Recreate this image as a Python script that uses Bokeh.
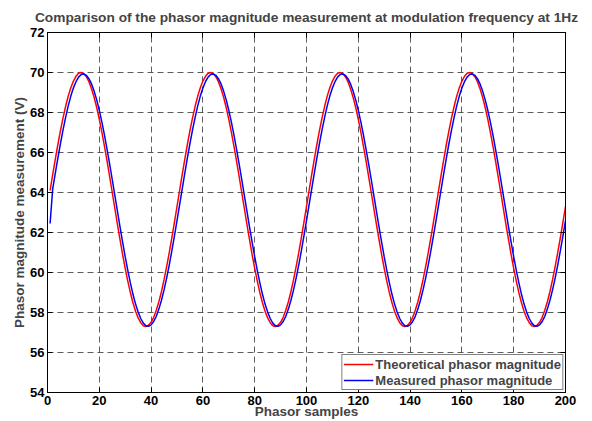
from bokeh.plotting import figure
from bokeh.models import LinearAxis, FixedTicker, CustomLabelingPolicy
from bokeh.embed import file_html
from bokeh.resources import INLINE

title_text = "Comparison of the phasor magnitude measurement at modulation frequency at 1Hz"
x_label = "Phasor samples"
y_label = "Phasor magnitude measurement (V)"
series_names = ["Theoretical phasor magnitude", "Measured phasor magnitude"]
x_ticks = [0, 20, 40, 60, 80, 100, 120, 140, 160, 180, 200]
y_ticks = [54, 56, 58, 60, 62, 64, 66, 68, 70, 72]

samples = list(range(1, 201))

theoretical = [
    64.10, 64.89, 65.66, 66.40, 67.09, 67.73, 68.31, 68.82, 69.24, 69.57,
    69.81, 69.96, 70.00, 69.94, 69.79, 69.54, 69.19, 68.76, 68.25, 67.66,
    67.01, 66.31, 65.57, 64.79, 64.00, 63.20, 62.41, 61.64, 60.90, 60.21,
    59.57, 58.99, 58.49, 58.06, 57.73, 57.49, 57.34, 57.30, 57.36, 57.51,
    57.76, 58.11, 58.54, 59.05, 59.64, 60.29, 60.99, 61.73, 62.51, 63.30,
    64.10, 64.89, 65.66, 66.40, 67.09, 67.73, 68.31, 68.82, 69.24, 69.57,
    69.81, 69.96, 70.00, 69.94, 69.79, 69.54, 69.19, 68.76, 68.25, 67.66,
    67.01, 66.31, 65.57, 64.79, 64.00, 63.20, 62.41, 61.64, 60.90, 60.21,
    59.57, 58.99, 58.49, 58.06, 57.73, 57.49, 57.34, 57.30, 57.36, 57.51,
    57.76, 58.11, 58.54, 59.05, 59.64, 60.29, 60.99, 61.73, 62.51, 63.30,
    64.10, 64.89, 65.66, 66.40, 67.09, 67.73, 68.31, 68.82, 69.24, 69.57,
    69.81, 69.96, 70.00, 69.94, 69.79, 69.54, 69.19, 68.76, 68.25, 67.66,
    67.01, 66.31, 65.57, 64.79, 64.00, 63.20, 62.41, 61.64, 60.90, 60.21,
    59.57, 58.99, 58.49, 58.06, 57.73, 57.49, 57.34, 57.30, 57.36, 57.51,
    57.76, 58.11, 58.54, 59.05, 59.64, 60.29, 60.99, 61.73, 62.51, 63.30,
    64.10, 64.89, 65.66, 66.40, 67.09, 67.73, 68.31, 68.82, 69.24, 69.57,
    69.81, 69.96, 70.00, 69.94, 69.79, 69.54, 69.19, 68.76, 68.25, 67.66,
    67.01, 66.31, 65.57, 64.79, 64.00, 63.20, 62.41, 61.64, 60.90, 60.21,
    59.57, 58.99, 58.49, 58.06, 57.73, 57.49, 57.34, 57.30, 57.36, 57.51,
    57.76, 58.11, 58.54, 59.05, 59.64, 60.29, 60.99, 61.73, 62.51, 63.30,
]

measured = [
    62.45, 64.17, 64.96, 65.72, 66.45, 67.13, 67.76, 68.33, 68.82, 69.23,
    69.54, 69.77, 69.90, 69.93, 69.86, 69.69, 69.43, 69.07, 68.63, 68.11,
    67.52, 66.87, 66.16, 65.42, 64.65, 63.86, 63.07, 62.28, 61.52, 60.79,
    60.11, 59.48, 58.91, 58.42, 58.02, 57.70, 57.47, 57.34, 57.31, 57.38,
    57.55, 57.81, 58.17, 58.61, 59.13, 59.72, 60.37, 61.08, 61.82, 62.59,
    63.38, 64.17, 64.96, 65.72, 66.45, 67.13, 67.76, 68.33, 68.82, 69.23,
    69.54, 69.77, 69.90, 69.93, 69.86, 69.69, 69.43, 69.07, 68.63, 68.11,
    67.52, 66.87, 66.16, 65.42, 64.65, 63.86, 63.07, 62.28, 61.52, 60.79,
    60.11, 59.48, 58.91, 58.42, 58.02, 57.70, 57.47, 57.34, 57.31, 57.38,
    57.55, 57.81, 58.17, 58.61, 59.13, 59.72, 60.37, 61.08, 61.82, 62.59,
    63.38, 64.17, 64.96, 65.72, 66.45, 67.13, 67.76, 68.33, 68.82, 69.23,
    69.54, 69.77, 69.90, 69.93, 69.86, 69.69, 69.43, 69.07, 68.63, 68.11,
    67.52, 66.87, 66.16, 65.42, 64.65, 63.86, 63.07, 62.28, 61.52, 60.79,
    60.11, 59.48, 58.91, 58.42, 58.02, 57.70, 57.47, 57.34, 57.31, 57.38,
    57.55, 57.81, 58.17, 58.61, 59.13, 59.72, 60.37, 61.08, 61.82, 62.59,
    63.38, 64.17, 64.96, 65.72, 66.45, 67.13, 67.76, 68.33, 68.82, 69.23,
    69.54, 69.77, 69.90, 69.93, 69.86, 69.69, 69.43, 69.07, 68.63, 68.11,
    67.52, 66.87, 66.16, 65.42, 64.65, 63.86, 63.07, 62.28, 61.52, 60.79,
    60.11, 59.48, 58.91, 58.42, 58.02, 57.70, 57.47, 57.34, 57.31, 57.38,
    57.55, 57.81, 58.17, 58.61, 59.13, 59.72, 60.37, 61.08, 61.82, 62.59,
]

FONT = "Liberation Sans"

p = figure(width=592, height=421, x_range=(0, 200), y_range=(54, 72),
           output_backend="svg", toolbar_location=None,
           min_border_left=47, min_border_right=27,
           min_border_top=32, min_border_bottom=29)

p.title.text = title_text
p.title.align = "center"
p.title.vertical_align = "top"
p.title.text_line_height = 0.6
p.title.text_font = FONT
p.title.text_font_size = "13.7px"
p.title.text_font_style = "bold"
p.title.standoff = 12

p.line(samples, theoretical, color="#ff0000", line_width=1.5, legend_label=series_names[0])
p.line(samples, measured, color="#0000ff", line_width=1.5, legend_label=series_names[1])

# extra axes for the box look (ticks inward on all sides, no labels)
hide_labels = CustomLabelingPolicy(code="""
    for (const i of indices) { indices.unset(i) }
    return indices
""")
p.add_layout(LinearAxis(major_label_policy=hide_labels), "above")
p.add_layout(LinearAxis(major_label_policy=hide_labels), "right")

for ax in p.axis:
    ax.major_tick_in = 5
    ax.major_tick_out = 0
    ax.minor_tick_line_color = None
    ax.axis_line_color = "black"
    ax.major_tick_line_color = "black"
    ax.major_label_text_font = FONT
    ax.major_label_text_font_size = "13px"
    ax.major_label_text_font_style = "bold"
    ax.major_label_text_color = "black"

for ax in p.xaxis:
    ax.ticker = FixedTicker(ticks=x_ticks)
for ax in p.yaxis:
    ax.ticker = FixedTicker(ticks=y_ticks)

p.above[-1].major_label_text_font_size = "0px"
p.above[-1].major_label_standoff = 0
p.right[-1].major_label_text_font_size = "0px"
p.right[-1].major_label_standoff = 0

p.below[0].major_label_standoff = 3
p.below[0].axis_label = x_label
p.below[0].axis_label_text_font = FONT
p.below[0].axis_label_text_font_size = "13.5px"
p.below[0].axis_label_text_font_style = "bold"
p.below[0].axis_label_standoff = -4

p.left[0].major_label_standoff = 3
p.left[0].axis_label = y_label
p.left[0].axis_label_text_font = FONT
p.left[0].axis_label_text_font_size = "13.5px"
p.left[0].axis_label_text_font_style = "bold"
p.left[0].axis_label_standoff = 0

p.xgrid.ticker = FixedTicker(ticks=x_ticks)
p.ygrid.ticker = FixedTicker(ticks=y_ticks)
p.grid.grid_line_color = "#333333"
p.grid.grid_line_alpha = 0.8
p.grid.grid_line_dash = "6 4"

p.outline_line_color = "black"
p.outline_line_alpha = 1

p.legend.location = "bottom_right"
p.legend.margin = 2
p.legend.padding = 1
p.legend.spacing = 0
p.legend.label_height = 16
p.legend.glyph_height = 16
p.legend.glyph_width = 30
p.legend.label_standoff = 2
p.legend.label_text_font = FONT
p.legend.label_text_font_size = "13px"
p.legend.label_text_font_style = "bold"
p.legend.border_line_color = "black"
p.legend.border_line_width = 1
p.legend.background_fill_alpha = 1

open("out.html", "w").write(file_html(p, INLINE))
